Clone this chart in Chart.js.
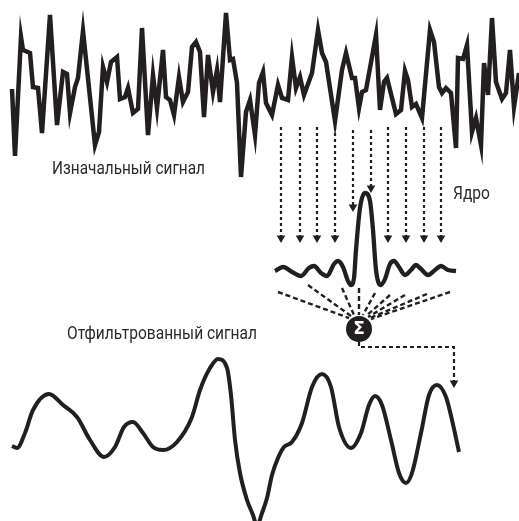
<!DOCTYPE html>
<html>
<head>
<meta charset="utf-8">
<script src="https://cdn.jsdelivr.net/npm/chart.js@4/dist/chart.umd.min.js"></script>
<style>
  html, body { margin: 0; padding: 0; background: #fff; }
  #c { display: block; }
</style>
</head>
<body>
<canvas id="c" width="519" height="521"></canvas>
<script>
"use strict";
// diagram space: x 0..519, y 0..521 (y grows downward)
var INK = "#231f20";

var noisySignal = [[12,89],[15,156],[21,37],[23,50],[30,53],[33,87],[38,88],[42,133],[50,15],[57,125],[63,72],[67,74],[70,113],[75,87],[78,78],[83,31],[95,145],[99,132],[103,67],[107,82],[111,62],[117,57],[120,99],[125,97],[128,88],[133,113],[138,109],[142,28],[148,135],[153,75],[157,108],[163,50],[166,97],[170,100],[174,115],[179,77],[183,102],[188,92],[192,47],[196,42],[200,52],[204,117],[208,55],[213,92],[217,70],[220,102],[226,13],[230,60],[233,59],[237,83],[241,177],[246,112],[250,100],[255,135],[259,83],[263,72],[266,103],[272,115],[278,85],[282,98],[288,100],[292,57],[296,88],[300,77],[304,95],[312,73],[318,30],[322,53],[326,62],[335,121],[342,70],[346,53],[352,78],[355,78],[359,108],[362,92],[366,90],[376,35],[380,110],[384,82],[387,78],[396,114],[401,110],[405,71],[408,80],[412,107],[416,104],[422,118],[430,30],[434,42],[439,87],[442,93],[446,88],[451,93],[456,148],[458,58],[463,59],[467,45],[472,132],[476,118],[481,145],[484,63],[488,95],[492,18],[496,82],[502,99],[506,93],[510,50],[514,107],[519,73]];

var kernel = [[275,271],[283,267],[292,272],[301,276],[309,268],[314,266],[321,273],[327,276],[334,264],[338,261],[343,267],[348,281],[351,285],[354,278],[356,250],[360,208],[365,193],[370,201],[373,230],[376,270],[381,285],[385,279],[390,264],[394,261],[399,267],[405,275],[411,270],[416,265],[421,269],[428,275],[435,270],[441,266],[448,270],[456,271]];

var filteredSignal = [[12,446],[17,448],[25,433],[33,410],[49,394],[63,405],[77,417],[90,440],[104,457],[115,447],[124,427],[133,422],[143,433],[153,447],[163,450],[177,442],[192,417],[200,390],[210,368],[218,359],[227,368],[231,395],[235,440],[240,473],[247,500],[253,515],[257,526],[262,513],[267,498],[272,475],[278,458],[284,447],[292,442],[302,423],[312,387],[322,374],[331,387],[339,427],[351,448],[361,433],[369,405],[375,396],[382,405],[391,440],[399,473],[406,483],[412,473],[421,433],[429,395],[437,385],[446,397],[452,420],[459,452]];

// sampling arrows from signal to kernel
var arrowX = [281, 300, 317, 335, 353, 371, 388, 406, 424, 441];
var arrowTop = [127, 127, 127, 127, 130, 130, 127, 127, 127, 127];
var arrowTip = [243, 243, 243, 243, 212, 193, 243, 243, 243, 243];

// products fanning into the sum
var fanStart = [[278,292],[308,285],[342,288],[359,288],[375,293],[390,295],[405,295],[427,294],[450,292]];
var fanEnd = [[349,318],[351,316],[354,315],[359,315],[363,315],[366,316],[368,317],[370,318],[371,319]];

var sumNode = [359, 329];
var outputPath = [[359,342],[359,347],[454,347],[454,383]];

var labels = [
  { text: "Изначальный сигнал", x: 52, y: 169, w: 153 },
  { text: "Ядро", x: 453, y: 194, w: 37 },
  { text: "Отфильтрованный сигнал", x: 67, y: 334, w: 190 }
];

function pts(list) {
  return list.map(function (p) { return { x: p[0], y: p[1] }; });
}

var datasets = [];

datasets.push({
  data: pts(noisySignal), showLine: true, borderColor: INK, borderWidth: 4.5,
  pointRadius: 0, tension: 0
});

arrowX.forEach(function (x, i) {
  datasets.push({
    data: [{ x: x, y: arrowTop[i] }, { x: x, y: arrowTip[i] - 5 }],
    showLine: true, borderColor: INK, borderWidth: 2.2, borderDash: [3, 3],
    pointRadius: [0, 5], pointStyle: "triangle", pointRotation: 180,
    pointBackgroundColor: INK, pointBorderWidth: 0
  });
});

datasets.push({
  data: pts(kernel), showLine: true, borderColor: INK, borderWidth: 4.3,
  pointRadius: 0, cubicInterpolationMode: "monotone"
});

fanStart.forEach(function (s, i) {
  datasets.push({
    data: [{ x: s[0], y: s[1] }, { x: fanEnd[i][0], y: fanEnd[i][1] }],
    showLine: true, borderColor: INK, borderWidth: 2.4, borderDash: [5, 3],
    pointRadius: 0
  });
});

datasets.push({
  data: pts(outputPath), showLine: true, borderColor: INK, borderWidth: 2.2,
  borderDash: [4, 3], pointRadius: [0, 0, 0, 5], pointStyle: "triangle",
  pointRotation: 180, pointBackgroundColor: INK, pointBorderWidth: 0
});

datasets.push({
  data: [{ x: sumNode[0], y: sumNode[1] }], showLine: false,
  pointRadius: 13, pointStyle: "circle", pointBackgroundColor: INK,
  pointBorderWidth: 0
});

datasets.push({
  data: pts(filteredSignal), showLine: true, borderColor: INK, borderWidth: 4,
  pointRadius: 0, cubicInterpolationMode: "monotone"
});

var textPlugin = {
  id: "diagramText",
  afterDatasetsDraw: function (chart) {
    var ctx = chart.ctx, sx = chart.scales.x, sy = chart.scales.y;
    ctx.save();
    ctx.fillStyle = "#2b2b2b";
    ctx.font = "18px Roboto, 'DejaVu Sans', sans-serif";
    ctx.textAlign = "left";
    ctx.textBaseline = "middle";
    labels.forEach(function (l) {
      // the original face is condensed: squeeze horizontally to its width
      var k = l.w / ctx.measureText(l.text).width;
      ctx.save();
      ctx.translate(sx.getPixelForValue(l.x), sy.getPixelForValue(l.y));
      ctx.scale(k, 1);
      ctx.fillText(l.text, 0, 0);
      ctx.restore();
    });
    ctx.fillStyle = "#fff";
    ctx.font = "bold 17px 'DejaVu Sans', sans-serif";
    ctx.textAlign = "center";
    ctx.fillText("Σ", sx.getPixelForValue(sumNode[0]), sy.getPixelForValue(sumNode[1]) + 1);
    ctx.restore();
  }
};

new Chart(document.getElementById("c").getContext("2d"), {
  type: "scatter",
  data: { datasets: datasets },
  options: {
    responsive: false,
    animation: false,
    events: [],
    layout: { padding: 0, autoPadding: false },
    plugins: { legend: { display: false }, tooltip: { enabled: false } },
    scales: {
      x: { type: "linear", min: 0, max: 519, display: false },
      y: { type: "linear", min: 0, max: 521, reverse: true, display: false }
    }
  },
  plugins: [textPlugin]
});
</script>
</body>
</html>
